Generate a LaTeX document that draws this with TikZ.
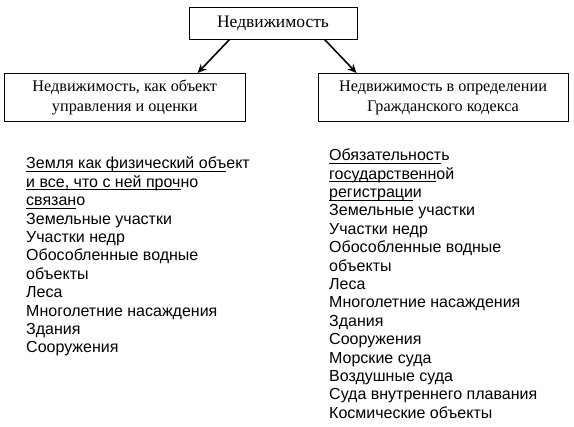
\documentclass[tikz,border=0pt]{standalone}
\usepackage{amsmath}
\usepackage{fontspec}
\setmainfont{Liberation Serif}
\setsansfont{Liberation Sans}
\usetikzlibrary{arrows.meta}
\def\ul#1{\underline{\smash[b]{#1}}}

\tikzset{
  box/.style={draw, line width=0.9pt, align=center, inner sep=0pt,
    font=\fontsize{16.2}{20}\selectfont},
  items/.style={anchor=north west, align=left, inner sep=0pt,
    font=\sffamily\fontsize{16}{18.4}\selectfont},
  arr/.style={-{Stealth[length=9pt,width=8pt]}, line width=1.6pt}
}

\begin{document}
\begin{tikzpicture}[x=1pt, y=-1pt]
\useasboundingbox [fill=white] (0,0) rectangle (574,427);
\node (RE) at (273,23) [box, minimum width=168pt, minimum height=32pt, font=\fontsize{17.5}{20}\selectfont] {Недвижимость};
\node (MGMT) at (124.75,97.5) [box, minimum width=240.5pt, minimum height=48pt] {Недвижимость, как объект\\ управления и оценки};
\node (CIVIL) at (443,97.5) [box, minimum width=250pt, minimum height=48pt] {Недвижимость в определении\\ Гражданского кодекса};

\node (MGMTLIST) at (26,156.8) [items] {\ul{Земля как физический объ}ект\\ \ul{и все, что с ней проч}но\\ \ul{связан}о\\ Земельные участки\\ Участки недр\\ Обособленные водные\\ объекты\\ Леса\\ Многолетние насаждения\\ Здания\\ Сооружения};
\node (CIVILLIST) at (329,148.7) [items] {\ul{Обязательност}ь\\ \ul{государственн}ой\\ \ul{регистраци}и\\ Земельные участки\\ Участки недр\\ Обособленные водные\\ объекты\\ Леса\\ Многолетние насаждения\\ Здания\\ Сооружения\\ Морские суда\\ Воздушные суда\\ Суда внутреннего плавания\\ Космические объекты};

\draw [arr] ([xshift=41pt]RE.south west) to ([xshift=193.5pt]MGMT.north west);
\draw [arr] ([xshift=136pt]RE.south west) to ([xshift=39pt]CIVIL.north west);
\end{tikzpicture}
\end{document}
